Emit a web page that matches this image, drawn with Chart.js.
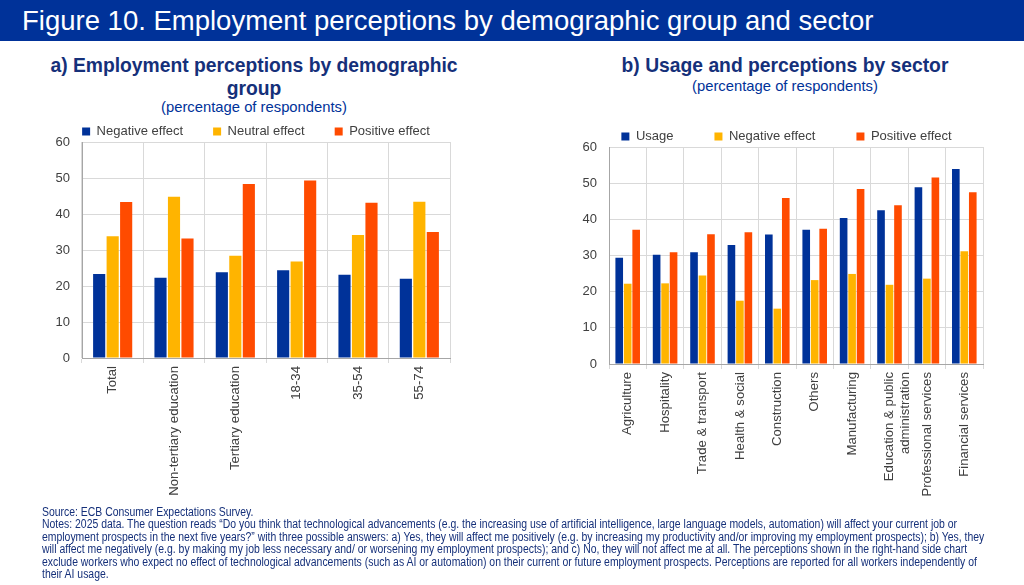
<html>
<head>
	<title>Figure 10</title>
	<style>
		html, body {
			margin: 0;
			padding: 0;
			width: 1024px;
			height: 585px;
			background: #fff;
			overflow: hidden;
			font-family: "Liberation Sans", Arial, sans-serif;
		}
		#titlebar {
			position: absolute; left: 0; top: 0; width: 1024px; height: 41px;
			background: #003299; color: #fff;
			font-size: 27.5px; line-height: 41px; padding-left: 22px; box-sizing: border-box;
		}
		.sub {
			position: absolute; text-align: center; color: #15307a;
			font-weight: bold; font-size: 19.3px; line-height: 23px;
		}
		.unit {
			position: absolute; text-align: center; color: #003299; font-size: 14.8px;
		}
		canvas { position: absolute; }
		#notes {
			position: absolute; left: 42px; top: 506px;
			color: #15307a; font-family: "Liberation Sans", sans-serif;
			font-size: 12px; line-height: 12.4px; white-space: nowrap;
			transform-origin: 0 0;
		}
		#notes span { display: block; width: max-content; }
	</style>
</head>
<body>
	<div id="titlebar">Figure 10. Employment perceptions by demographic group and sector</div>

	<div class="sub" style="left:30px; top:54px; width:448px;">a) Employment perceptions by demographic<br>group</div>
	<div class="unit" style="left:30px; top:99px; width:448px;">(percentage of respondents)</div>
	<div class="sub" style="left:565px; top:54px; width:440px;">b) Usage and perceptions by sector</div>
	<div class="unit" style="left:565px; top:78px; width:440px;">(percentage of respondents)</div>

	<canvas id="chartA" style="left:40px; top:95px;"></canvas>
	<canvas id="chartB" style="left:567px; top:89px;"></canvas>

	<div id="notes">
		<span>Source: ECB Consumer Expectations Survey.</span>
		<span id="widest">Notes: 2025 data. The question reads “Do you think that technological advancements (e.g. the increasing use of artificial intelligence, large language models, automation) will affect your current job or</span>
		<span>employment prospects in the next five years?” with three possible answers: a) Yes, they will affect me positively (e.g. by increasing my productivity and/or improving my employment prospects); b) Yes, they</span>
		<span>will affect me negatively (e.g. by making my job less necessary and/ or worsening my employment prospects); and c) No, they will not affect me at all. The perceptions shown in the right-hand side chart</span>
		<span>exclude workers who expect no effect of technological advancements (such as AI or automation) on their current or future employment prospects. Perceptions are reported for all workers independently of</span>
		<span>their AI usage.</span>
	</div>

	<script src="https://cdn.jsdelivr.net/npm/chart.js@4.4.1/dist/chart.umd.min.js"></script>
	<script>
		// panel a) demographic groups
		var groups = ['Total', 'Non-tertiary education', 'Tertiary education', '18-34', '35-54', '55-74'];
		var groupNegative = [23.3, 22.3, 23.8, 24.4, 23.1, 22.0];
		var groupNeutral = [33.8, 44.8, 28.4, 26.8, 34.2, 43.4];
		var groupPositive = [43.3, 33.2, 48.3, 49.3, 43.1, 35.0];

		// panel b) sectors
		var sectors = ['Agriculture', 'Hospitality', 'Trade & transport', 'Health & social', 'Construction', 'Others',
			'Manufacturing', ['Education & public', 'administration'], 'Professional services', 'Financial services'];
		var sectorUsage = [29.4, 30.2, 30.9, 32.9, 35.8, 37.1, 40.4, 42.5, 48.9, 53.9];
		var sectorNegative = [22.2, 22.3, 24.5, 17.5, 15.3, 23.2, 24.9, 21.9, 23.6, 31.2];
		var sectorPositive = [37.1, 30.9, 35.9, 36.4, 45.9, 37.4, 48.4, 43.9, 51.6, 47.5];

		var yTicks = [0, 10, 20, 30, 40, 50, 60];

		var BLUE = '#003299', YELLOW = '#FFB400', ORANGE = '#FF4B00';
		var FONT = 'Liberation Sans';

		// fit the notes to the width of the original text block
		var notes = document.getElementById('notes');
		var w = document.getElementById('widest').getBoundingClientRect().width;
		notes.style.transform = 'scaleX(' + (915 / w) + ')';

		// nudge the legend sideways so it sits where the original one does
		var legendShift = {
			id: 'legendShift',
			afterLayout: function (chart, args, opts) {
				chart.legend.left += opts.dx;
				chart.legend.right += opts.dx;
			}
		};

		function makeChart(id, w, h, labels, sets, cat, legendPad, legendH, xHeight, padRight, dx) {
			var ctx = document.getElementById(id).getContext('2d');
			ctx.canvas.width = w;
			ctx.canvas.height = h;
			ctx.canvas.style.width = w + 'px';
			ctx.canvas.style.height = h + 'px';
			return new Chart(ctx, {
				type: 'bar',
				data: {
					labels: labels,
					datasets: sets.map(function (s) {
						return {label: s[0], data: s[1], backgroundColor: s[2], borderWidth: 0,
							categoryPercentage: cat, barPercentage: 0.9};
					})
				},
				plugins: [legendShift],
				options: {
					responsive: false,
					animation: false,
					devicePixelRatio: 1,
					layout: {padding: {top: 0, right: padRight, bottom: 0, left: 0}},
					plugins: {
						legendShift: {dx: dx},
						legend: {
							position: 'top',
							maxHeight: legendH,
							labels: {boxWidth: 8, boxHeight: 8, padding: legendPad, color: '#404040',
								font: {family: FONT, size: 13}}
						},
						tooltip: {enabled: false}
					},
					scales: {
						x: {
							grid: {color: '#d9d9d9', tickLength: 5, offset: true},
							border: {color: '#a6a6a6'},
							ticks: {maxRotation: 90, minRotation: 90, padding: 3, color: '#404040',
								font: {family: FONT, size: 13.2}, autoSkip: false},
							afterFit: function (s) { s.height = xHeight; }
						},
						y: {
							min: 0, max: 60,
							afterBuildTicks: function (s) { s.ticks = yTicks.map(function (v) { return {value: v}; }); },
							grid: {color: '#d9d9d9', drawTicks: false},
							border: {color: '#a6a6a6'},
							ticks: {padding: 12, color: '#404040', font: {family: FONT, size: 13}},
							afterFit: function (s) { s.width = 42; }
						}
					}
				}
			});
		}

		makeChart('chartA', 432, 411, groups, [
			['Negative effect', groupNegative, BLUE],
			['Neutral effect', groupNeutral, YELLOW],
			['Positive effect', groupPositive, ORANGE]
		], 0.66, 30, 47, 148, 22, 11);

		makeChart('chartB', 439, 417, sectors, [
			['Usage', sectorUsage, BLUE],
			['Negative effect', sectorNegative, YELLOW],
			['Positive effect', sectorPositive, ORANGE]
		], 0.68, 41, 58, 142, 23, 11.5);
	</script>
</body>
</html>
